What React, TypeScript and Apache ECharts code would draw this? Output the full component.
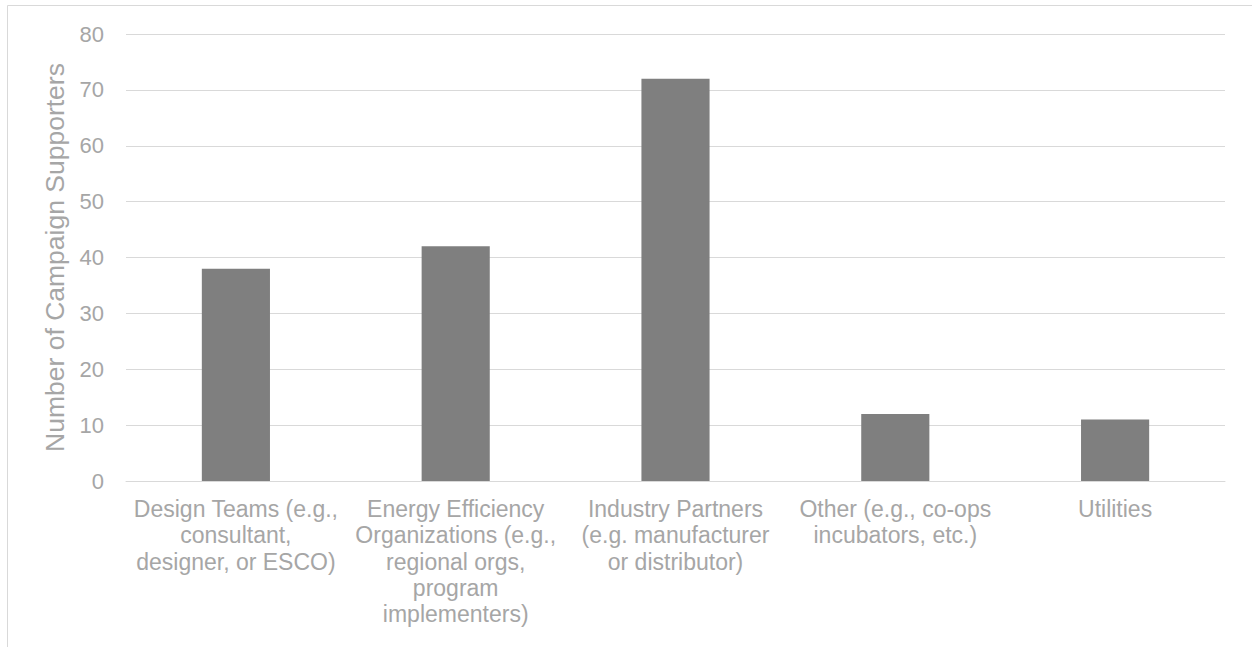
import React, { useEffect, useRef } from "react";
import * as echarts from "echarts";

const categories = [
  "Design Teams (e.g.,\nconsultant,\ndesigner, or ESCO)",
  "Energy Efficiency\nOrganizations (e.g.,\nregional orgs,\nprogram\nimplementers)",
  "Industry Partners\n(e.g. manufacturer\nor distributor)",
  "Other (e.g., co-ops\nincubators, etc.)",
  "Utilities",
];
const supporters = [38, 42, 72, 12, 11];
const yAxisTitle = "Number of Campaign Supporters";

const TEXT = "#a6a6a6";
const GRID = "#d9d9d9";
const FONT = "Liberation Sans, Arial, sans-serif";

export default function App() {
  const ref = useRef<HTMLDivElement>(null);
  useEffect(() => {
    if (!ref.current) return;
    const chart = echarts.init(ref.current, null, { renderer: "svg" });
    chart.setOption({
      animation: false,
      backgroundColor: "#ffffff",
      textStyle: { fontFamily: FONT },
      graphic: [
        {
          type: "rect",
          shape: { x: 7.5, y: 5.5, width: 1400, height: 800 },
          style: { fill: "none", stroke: "#d9d9d9", lineWidth: 1 },
          silent: true,
        },
      ],
      grid: { left: 126, right: 27, top: 34, bottom: 166, containLabel: false },
      xAxis: {
        type: "category",
        data: categories,
        axisLine: { show: true, lineStyle: { color: GRID, width: 1 } },
        axisTick: { show: false },
        axisLabel: {
          color: TEXT,
          fontSize: 23,
          fontFamily: FONT,
          lineHeight: 26.3,
          margin: 15,
          interval: 0,
          align: "center",
        },
      },
      yAxis: {
        type: "value",
        min: 0,
        max: 80,
        interval: 10,
        name: yAxisTitle,
        nameLocation: "middle",
        nameGap: 45,
        nameRotate: 90,
        nameTextStyle: { color: TEXT, fontSize: 26.5, fontFamily: FONT },
        axisLine: { show: false },
        axisTick: { show: false },
        splitLine: { lineStyle: { color: GRID, width: 1 } },
        axisLabel: { color: TEXT, fontSize: 22, fontFamily: FONT, margin: 22 },
      },
      series: [
        {
          type: "bar",
          data: supporters,
          barWidth: "31%",
          itemStyle: { color: "#7f7f7f" },
        },
      ],
    });
    return () => chart.dispose();
  }, []);
  return (
    <div style={{ position: "absolute", left: 0, top: 0, width: 1252, height: 647 }}>
      <div ref={ref} style={{ width: 1252, height: 647 }} />
    </div>
  );
}
